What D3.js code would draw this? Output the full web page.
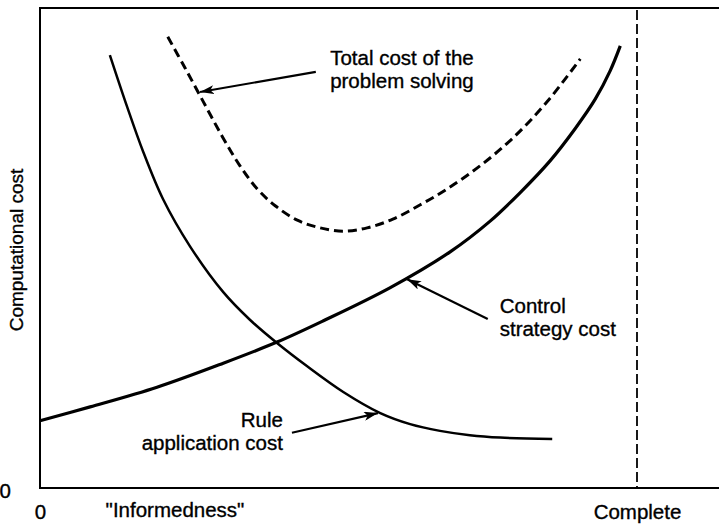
<!DOCTYPE html>
<html>
  <head>
      <title>Informedness vs computational cost</title>
      <script src="https://cdn.jsdelivr.net/npm/d3@7"></script>
      <style>
        body { margin: 0; background: #fff; }
        text { font-family: "Liberation Sans", Arial, Helvetica, sans-serif; fill: #000; stroke: #000; stroke-width: 0.35px; }
      </style>
  </head>
  <body>
        <div></div>
        <script>
           // x = informedness (0 .. 100 = complete), y = computational cost
           var rule_x = [11.7, 14.6, 17.3, 20.6, 25.1, 30.7, 35.2, 39.7, 44.7, 50.8, 57.0, 62.0, 67.0, 72.0, 77.1, 85.8]
           var rule_y = [90.2, 79.4, 70.0, 60.2, 50.4, 40.8, 35.0, 30.2, 25.4, 20.0, 15.6, 13.3, 11.9, 11.0, 10.5, 10.2]
           var control_x = [0, 8.4, 19.6, 30.7, 39.7, 47.4, 58.6, 68.7, 75.4, 80.4, 85.4, 89.6, 93.0, 95.5, 97.2]
           var control_y = [14.0, 16.9, 21.0, 26.0, 30.4, 34.8, 41.7, 49.2, 55.6, 61.5, 68.1, 74.8, 81.0, 86.9, 92.1]
           var total_x = [21.4, 24.3, 27.3, 30.5, 33.5, 36.4, 39.4, 43.1, 46.9, 50.8, 54.8, 59.1, 63.7, 68.2, 73.7, 79.2, 84.9, 90.5]
           var total_y = [94.0, 87.5, 80.6, 73.3, 67.1, 62.3, 58.8, 55.8, 54.2, 53.5, 54.2, 56.0, 59.0, 62.3, 67.1, 72.9, 80.4, 89.4]

           var x_ticks = [0, 100]
           var x_tick_labels = ["0", "Complete"]
           var y_ticks = [0]
           var x_title = "\"Informedness\""
           var y_title = "Computational cost"

           var notes = [
             {lines: ["Total cost of the", "problem solving"], x: 48.6, y: 88.1, anchor: "start", from: [46.2, 86.7], to: [26.8, 82.5]},
             {lines: ["Control", "strategy cost"], x: 77.0, y: 36.5, anchor: "start", from: [75.0, 35.2], to: [61.5, 43.5]},
             {lines: ["Rule", "application cost"], x: 40.7, y: 12.7, anchor: "end", from: [42.2, 11.5], to: [56.6, 15.6]}
           ]

           var width = 719, height = 526
           var left_px = 40, top_px = 8, bottom_px = 488, complete_px = 637
           var x = d3.scaleLinear().domain([0, 100]).range([left_px, complete_px])
           var y = d3.scaleLinear().domain([0, 100]).range([bottom_px, top_px])

           var svg = d3.select("div").append("svg").attr("width", width).attr("height", height)

           svg.append("defs").append("marker").attr("id", "head")
              .attr("viewBox", "0 0 14 9").attr("refX", 14).attr("refY", 4.5)
              .attr("markerWidth", 14).attr("markerHeight", 9).attr("markerUnits", "userSpaceOnUse")
              .attr("orient", "auto")
              .append("path").attr("d", "M0,0 L14,4.5 L0,9 L3.5,4.5 Z").attr("fill", "#000")

           // frame
           svg.append("path").attr("d", "M" + (left_px - 1) + "," + top_px + "H" + width)
              .attr("stroke", "#000").attr("stroke-width", 2.2)
           svg.append("path").attr("d", "M" + left_px + "," + top_px + "V" + bottom_px + "H" + width)
              .attr("stroke", "#000").attr("stroke-width", 2).attr("fill", "none")
           svg.append("line").attr("x1", x(100)).attr("x2", x(100)).attr("y1", top_px + 2).attr("y2", bottom_px)
              .attr("stroke", "#000").attr("stroke-width", 1.8).attr("stroke-dasharray", "10,4")

           var xAxis = d3.axisBottom(x).tickValues(x_ticks).tickSize(0).tickPadding(16)
              .tickFormat((d, i) => x_tick_labels[i])
           var gx = svg.append("g").attr("transform", "translate(0," + bottom_px + ")").call(xAxis)
           gx.select(".domain").remove()
           var yAxis = d3.axisLeft(y).tickValues(y_ticks).tickSize(0).tickPadding(29).tickFormat(d3.format("d"))
           var gy = svg.append("g").attr("transform", "translate(" + left_px + ",0)").call(yAxis)
           gy.select(".domain").remove()
           svg.selectAll(".tick text").attr("font-size", 20.5).attr("font-family", null)
           gy.selectAll(".tick text").attr("dy", "0.45em")

           svg.append("text").attr("x", 175).attr("y", 517).attr("text-anchor", "middle")
              .attr("font-size", 20.5).text(x_title)
           svg.append("text").attr("transform", "translate(23,250) rotate(-90)").attr("text-anchor", "middle")
              .attr("font-size", 19).text(y_title)

           var line = d3.line().x(d => x(d[0])).y(d => y(d[1])).curve(d3.curveCatmullRom)
           var series = [
             {xs: rule_x, ys: rule_y, w: 2.5, dash: null},
             {xs: control_x, ys: control_y, w: 3.2, dash: null},
             {xs: total_x, ys: total_y, w: 3, dash: "9,5"}
           ]
           svg.selectAll(".curve").data(series).enter().append("path").attr("class", "curve")
              .attr("d", s => line(s.xs.map((v, i) => [v, s.ys[i]])))
              .attr("fill", "none").attr("stroke", "#000")
              .attr("stroke-width", s => s.w).attr("stroke-dasharray", s => s.dash)

           var g = svg.selectAll(".note").data(notes).enter().append("g").attr("class", "note")
           g.append("line").attr("x1", d => x(d.from[0])).attr("y1", d => y(d.from[1]))
              .attr("x2", d => x(d.to[0])).attr("y2", d => y(d.to[1]))
              .attr("stroke", "#000").attr("stroke-width", 2.2).attr("marker-end", "url(#head)")
           g.append("text").attr("x", d => x(d.x)).attr("y", d => y(d.y))
              .attr("text-anchor", d => d.anchor).attr("font-size", 20.5)
              .selectAll("tspan").data(d => d.lines.map(t => [t, d.x])).enter().append("tspan")
              .attr("x", t => x(t[1])).attr("dy", (t, i) => i ? 23 : 0).text(t => t[0])
        </script>
  </body>
</html>
